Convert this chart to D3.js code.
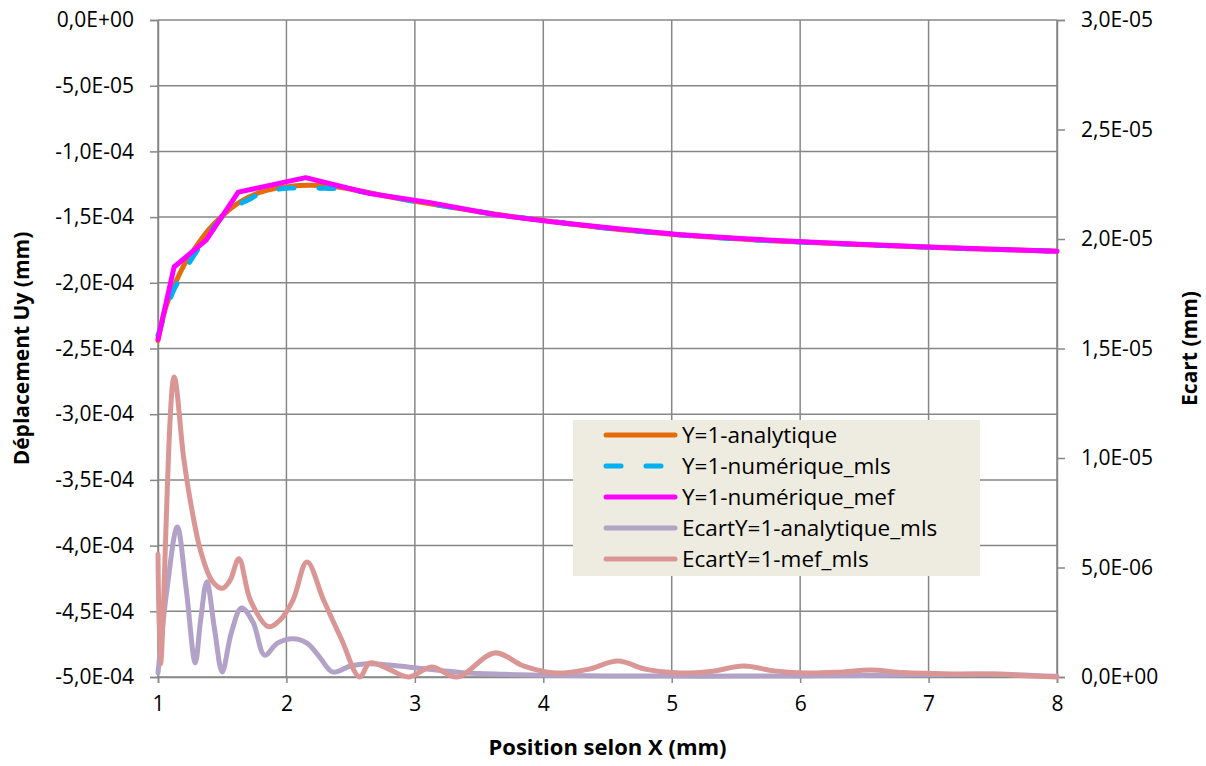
<!DOCTYPE html>
<html>
<head>
<meta charset="utf-8">
<script src="https://cdn.jsdelivr.net/npm/d3@7"></script>
<style>
  html, body { margin: 0; padding: 0; background: #fff; }
  svg text { font-family: "Open Sans", Lato, sans-serif; fill: #000; }
</style>
</head>
<body>
<svg id="chart" width="1206" height="766"></svg>
<script>
// ---- data ----
const xTicks = [1, 2, 3, 4, 5, 6, 7, 8];
const leftTicks = [0, -5e-5, -1e-4, -1.5e-4, -2e-4, -2.5e-4, -3e-4, -3.5e-4, -4e-4, -4.5e-4, -5e-4];
const rightTicks = [0, 5e-6, 1e-5, 1.5e-5, 2e-5, 2.5e-5, 3e-5];

// Y=1-analytique (x, Uy)
const analX = [1, 1.05, 1.1, 1.15, 1.2, 1.3, 1.4, 1.5, 1.6, 1.7, 1.8, 1.9, 2.0, 2.1, 2.2, 2.3, 2.4, 2.5, 2.6, 2.8, 3.0, 3.25, 3.5, 3.75, 4.0, 4.5, 5.0, 5.5, 6.0, 6.5, 7.0, 7.5, 8.0];
const analY = [-2.44e-4, -2.22e-4, -2.08e-4, -1.97e-4, -1.87e-4, -1.72e-4, -1.59e-4, -1.49e-4, -1.41e-4, -1.35e-4, -1.31e-4, -1.285e-4, -1.27e-4, -1.26e-4, -1.258e-4, -1.262e-4, -1.272e-4, -1.288e-4, -1.305e-4, -1.345e-4, -1.38e-4, -1.42e-4, -1.46e-4, -1.495e-4, -1.525e-4, -1.585e-4, -1.63e-4, -1.665e-4, -1.69e-4, -1.71e-4, -1.73e-4, -1.745e-4, -1.76e-4];

// Y=1-numérique_mls
const mlsX = [1, 1.05, 1.12, 1.2, 1.3, 1.4, 1.5, 1.6, 1.7, 1.8, 1.9, 2.0, 2.1, 2.2, 2.3, 2.4, 2.5, 2.6, 2.8, 3.0, 3.25, 3.5, 3.75, 4.0, 4.5, 5.0, 5.5, 6.0, 6.5, 7.0, 7.5, 8.0];
const mlsY = [-2.40e-4, -2.25e-4, -2.06e-4, -1.92e-4, -1.76e-4, -1.62e-4, -1.50e-4, -1.42e-4, -1.37e-4, -1.32e-4, -1.295e-4, -1.28e-4, -1.28e-4, -1.28e-4, -1.28e-4, -1.285e-4, -1.295e-4, -1.31e-4, -1.345e-4, -1.38e-4, -1.42e-4, -1.46e-4, -1.495e-4, -1.525e-4, -1.585e-4, -1.63e-4, -1.665e-4, -1.69e-4, -1.71e-4, -1.73e-4, -1.745e-4, -1.76e-4];

// Y=1-numérique_mef
const mefX = [1, 1.125, 1.375, 1.625, 2.15, 2.65, 3.12, 3.62, 4.1, 4.6, 5.07, 5.57, 6.06, 6.55, 7.05, 7.5, 8.0];
const mefY = [-2.43e-4, -1.88e-4, -1.675e-4, -1.31e-4, -1.20e-4, -1.32e-4, -1.39e-4, -1.48e-4, -1.54e-4, -1.59e-4, -1.635e-4, -1.665e-4, -1.69e-4, -1.71e-4, -1.73e-4, -1.745e-4, -1.76e-4];

// EcartY=1-analytique_mls (right axis)
const ecartAX = [1.0, 1.07, 1.15, 1.22, 1.29, 1.33, 1.38, 1.44, 1.5, 1.57, 1.65, 1.74, 1.83, 1.93, 2.05, 2.16, 2.26, 2.36, 2.5, 2.63, 2.8, 2.96, 3.2, 3.4, 3.7, 4.0, 4.5, 5.0, 5.5, 6.0, 6.5, 7.0, 7.3, 7.6, 8.0];
const ecartAY = [0.18e-6, 4.0e-6, 6.85e-6, 4.0e-6, 0.64e-6, 2.5e-6, 4.35e-6, 2.2e-6, 0.23e-6, 2.0e-6, 3.15e-6, 2.5e-6, 1.0e-6, 1.55e-6, 1.75e-6, 1.55e-6, 0.9e-6, 0.23e-6, 0.5e-6, 0.6e-6, 0.55e-6, 0.45e-6, 0.3e-6, 0.18e-6, 0.12e-6, 0.08e-6, 0.05e-6, 0.04e-6, 0.04e-6, 0.05e-6, 0.07e-6, 0.1e-6, 0.14e-6, 0.12e-6, 0.03e-6];

// EcartY=1-mef_mls (right axis)
const ecartMX = [1.0, 1.02, 1.125, 1.2, 1.25, 1.33, 1.42, 1.5, 1.56, 1.63, 1.72, 1.86, 1.95, 2.05, 2.16, 2.29, 2.43, 2.57, 2.65, 2.8, 2.95, 3.13, 3.33, 3.62, 3.85, 4.1, 4.35, 4.58, 4.8, 5.06, 5.3, 5.56, 5.8, 6.06, 6.3, 6.55, 6.8, 7.05, 7.3, 7.5, 7.75, 8.0];
const ecartMY = [5.6e-6, 0.6e-6, 13.7e-6, 10.0e-6, 8.1e-6, 5.8e-6, 4.4e-6, 4.05e-6, 4.4e-6, 5.4e-6, 3.5e-6, 2.3e-6, 2.6e-6, 3.5e-6, 5.25e-6, 3.5e-6, 1.7e-6, 0.0, 0.64e-6, 0.35e-6, 0.0, 0.46e-6, 0.0, 1.1e-6, 0.5e-6, 0.18e-6, 0.35e-6, 0.73e-6, 0.35e-6, 0.18e-6, 0.25e-6, 0.5e-6, 0.28e-6, 0.18e-6, 0.22e-6, 0.32e-6, 0.2e-6, 0.16e-6, 0.13e-6, 0.14e-6, 0.06e-6, 0.0];

const seriesNames = ["Y=1-analytique", "Y=1-numérique_mls", "Y=1-numérique_mef", "EcartY=1-analytique_mls", "EcartY=1-mef_mls"];
const seriesColors = ["#E46C0A", "#00B0F0", "#FF00FF", "#B3A2C7", "#D99694"];

// ---- layout ----
const svg = d3.select("#chart");
const L = 158, R = 1057, T = 20, B = 677;
const FONT = "21px";
const x = d3.scaleLinear().domain([1, 8]).range([L, R]);
const yL = d3.scaleLinear().domain([-5e-4, 0]).range([B, T]);
const yR = d3.scaleLinear().domain([0, 3e-5]).range([B, T]);

function fmt(v) {
  if (v === 0) return "0,0E+00";
  const s = v.toExponential(1);
  const [m, e] = s.split("e");
  const en = parseInt(e, 10);
  const es = (en < 0 ? "-" : "+") + String(Math.abs(en)).padStart(2, "0");
  return m.replace(".", ",") + "E" + es;
}

const gridColor = "#878787";
svg.append("g").selectAll("line").data(leftTicks).join("line")
  .attr("x1", L).attr("x2", R)
  .attr("y1", d => yL(d)).attr("y2", d => yL(d))
  .attr("stroke", gridColor).attr("stroke-width", 1.5);
svg.append("g").selectAll("line").data(xTicks).join("line")
  .attr("x1", d => x(d)).attr("x2", d => x(d))
  .attr("y1", T).attr("y2", B)
  .attr("stroke", gridColor).attr("stroke-width", 1.5);

const axL = d3.axisLeft(yL).tickValues(leftTicks).tickFormat(fmt).tickSize(8).tickPadding(16);
const axR = d3.axisRight(yR).tickValues(rightTicks).tickFormat(fmt).tickSize(8).tickPadding(16);
const axB = d3.axisBottom(x).tickValues(xTicks).tickFormat(d3.format("d")).tickSize(6).tickPadding(13);

function styleAxis(g) {
  g.select(".domain").attr("stroke", gridColor).attr("stroke-width", 1.5);
  g.selectAll(".tick line").attr("stroke", gridColor).attr("stroke-width", 1.5);
  g.selectAll(".tick text").style("font-family", "'Open Sans', sans-serif").style("font-size", FONT).attr("fill", "#000");
}
svg.append("g").attr("transform", `translate(${L},0)`).call(axL).call(styleAxis);
svg.append("g").attr("transform", `translate(${R},0)`).call(axR).call(styleAxis);
svg.append("g").attr("transform", `translate(0,${B})`).call(axB).call(styleAxis);

const zip = (xs, ys) => xs.map((v, i) => ({ x: v, y: ys[i] }));
const smoothL = d3.line().x(d => x(d.x)).y(d => yL(d.y)).curve(d3.curveCatmullRom.alpha(0.5));
const linearL = d3.line().x(d => x(d.x)).y(d => yL(d.y));
const smoothR = d3.line().x(d => x(d.x)).y(d => yR(d.y)).curve(d3.curveCatmullRom.alpha(0.5));

const plot = svg.append("g");
const W = 5;
plot.append("path").datum(zip(ecartAX, ecartAY)).attr("d", smoothR)
  .attr("fill", "none").attr("stroke", seriesColors[3]).attr("stroke-width", W).attr("stroke-linejoin", "round").attr("stroke-linecap", "round");
plot.append("path").datum(zip(ecartMX, ecartMY)).attr("d", smoothR)
  .attr("fill", "none").attr("stroke", seriesColors[4]).attr("stroke-width", W).attr("stroke-linejoin", "round").attr("stroke-linecap", "round");
plot.append("path").datum(zip(analX, analY)).attr("d", smoothL)
  .attr("fill", "none").attr("stroke", seriesColors[0]).attr("stroke-width", W).attr("stroke-linejoin", "round").attr("stroke-linecap", "round");
plot.append("path").datum(zip(mlsX, mlsY)).attr("d", smoothL)
  .attr("fill", "none").attr("stroke", seriesColors[1]).attr("stroke-width", W).attr("stroke-dasharray", "15 25").attr("stroke-linecap", "round");
plot.append("path").datum(zip(mefX, mefY)).attr("d", linearL)
  .attr("fill", "none").attr("stroke", seriesColors[2]).attr("stroke-width", W).attr("stroke-linejoin", "round").attr("stroke-linecap", "round");

// legend
const lg = svg.append("g");
lg.append("rect").attr("x", 573).attr("y", 420).attr("width", 407).attr("height", 156).attr("fill", "#EEECE1");
const rowY = [435, 466, 497, 528, 559];
seriesNames.forEach((name, i) => {
  const ln = lg.append("line").attr("x1", 606).attr("x2", 675).attr("y1", rowY[i]).attr("y2", rowY[i])
    .attr("stroke", seriesColors[i]).attr("stroke-width", 5).attr("stroke-linecap", "round");
  if (i === 1) ln.attr("stroke-dasharray", "15 25");
  lg.append("text").attr("x", 682).attr("y", rowY[i]).attr("dy", "0.35em")
    .style("font-size", "22.5px").text(name);
});

// axis titles
svg.append("text").attr("x", (L + R) / 2).attr("y", 755).attr("text-anchor", "middle")
  .style("font-size", "22px").style("font-weight", "bold").text("Position selon X (mm)");
svg.append("text").attr("transform", `translate(29,${(T + B) / 2}) rotate(-90)`).attr("text-anchor", "middle")
  .style("font-size", FONT).style("font-weight", "bold").text("Déplacement Uy (mm)");
svg.append("text").attr("transform", `translate(1197,${(T + B) / 2}) rotate(-90)`).attr("text-anchor", "middle")
  .style("font-size", FONT).style("font-weight", "bold").text("Ecart (mm)");
</script>
</body>
</html>
